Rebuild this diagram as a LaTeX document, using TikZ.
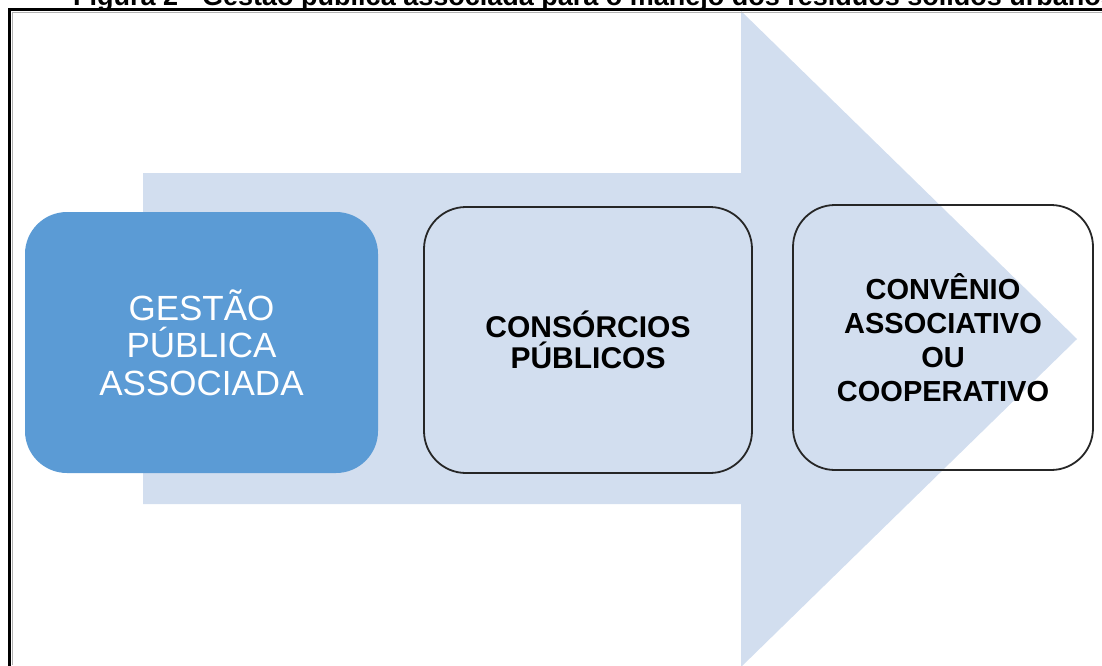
\documentclass[tikz,border=0pt]{standalone}
\usepackage{fontspec}
\setmainfont{Liberation Sans}
\usepackage{xcolor}
\usepackage{tikz}
\definecolor{setaclara}{RGB}{210,222,239}
\definecolor{caixaazul}{RGB}{91,155,213}

\begin{document}
\begin{tikzpicture}[x=1pt,y=-1pt,
		etapa/.style={rounded corners=42pt,inner sep=0pt,align=center,line width=1.8pt},
		moldura/.style={line width=3pt,line cap=rect}]
		\useasboundingbox (0,0) rectangle (1102,665);
		\clip (0,0) rectangle (1102,665);
		%
		\fill[setaclara] (143,173) -- (741,173) -- (741,11) -- (1077,339)
			-- (741,667) -- (741,504) -- (143,504) -- cycle;
		\node[anchor=base west,inner sep=0pt,font=\bfseries\fontsize{27}{27}\selectfont] (TT) at (73,5)
			{Figura 2 - Gestão pública associada para o manejo dos resíduos sólidos urbanos};
		\draw[gray!60,line width=1pt] (12,665) -- (12,12) -- (1102,12);
		\draw[moldura] (9.5,665) -- (9.5,9.5) -- (1102,9.5);
		%
		\node[etapa,fill=caixaazul,text=white,minimum width=353pt,minimum height=261pt,
			font=\fontsize{35}{37.5}\selectfont] (GP) at (201.5,342.5) {GESTÃO\\PÚBLICA\\ASSOCIADA};
		\node[etapa,draw=black!85,minimum width=328pt,minimum height=266pt,
			font=\bfseries\fontsize{30}{31}\selectfont] (CP) at (588,340) {CONSÓRCIOS\\PÚBLICOS};
		\node[etapa,draw=black!85,minimum width=300pt,minimum height=265pt,
			font=\bfseries\fontsize{29}{34}\selectfont] (CA) at (943,337.5) {CONVÊNIO\\ASSOCIATIVO\\OU\\COOPERATIVO};
		\end{tikzpicture}
\end{document}
